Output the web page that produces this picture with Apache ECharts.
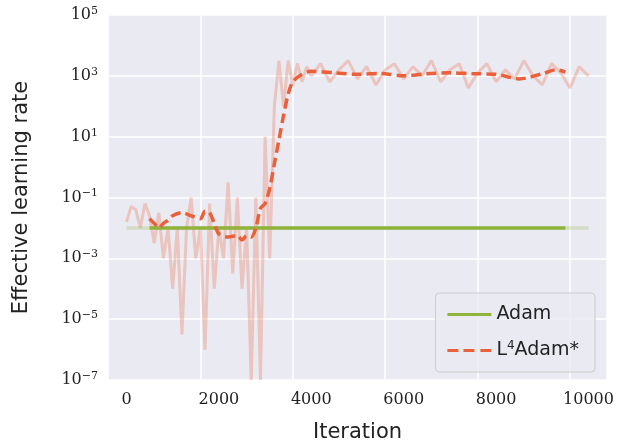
<!DOCTYPE html>
<html><head><meta charset="utf-8">
<script src="https://cdn.jsdelivr.net/npm/echarts@6/dist/echarts.min.js"></script>
<style>html,body{margin:0;padding:0;background:#fff}#c{width:617px;height:448px}</style>
</head><body><div id="c"></div>
<script>
// values are log10 of the effective learning rate
const rawX = [0,100,200,300,400,500,600,700,800,900,1000,1100,1200,1300,1400,1500,1600,1700,1800,1900,2000,2100,2200,2300,2400,2500,2600,2700,2800,2900,3000,3100,3200,3300,3400,3500,3600,3700,3800,3900,4000,4200,4400,4600,4800,5000,5200,5400,5600,5800,6000,6200,6400,6600,6800,7000,7200,7400,7600,7800,8000,8200,8400,8600,8800,9000,9200,9400,9600,9800,10000];
const rawY = [-1.8,-1.3,-1.4,-2.0,-1.2,-1.6,-2.5,-1.5,-3.0,-2.0,-4.0,-2.0,-5.5,-2.0,-1.0,-3.0,-2.0,-6.0,-1.2,-4.0,-2.0,-3.0,-0.5,-3.5,-1.0,-4.0,-2.0,-7.0,-1.0,-7.0,1.0,-3.0,2.0,3.5,2.0,3.5,2.7,3.4,2.8,3.3,3.0,3.4,2.8,3.2,3.5,2.9,3.3,2.7,3.2,3.4,2.9,3.3,3.0,3.5,2.8,3.2,3.4,2.6,3.1,3.4,2.8,3.2,2.9,3.5,3.0,2.7,3.4,3.1,2.6,3.3,3.0];
const adamX = [500,9500];
const adamY = [-2,-2];
const adamRawX = [0,10000];
const adamRawY = [-2,-2];
const l4X = [500,600,700,800,900,1000,1200,1400,1600,1700,1800,1900,2000,2200,2400,2500,2600,2700,2800,2900,3000,3100,3200,3300,3400,3500,3600,3800,4000,4500,5000,5500,6000,6500,7000,7500,8000,8500,9000,9300,9500];
const l4Y = [-1.7,-1.85,-2.0,-1.85,-1.75,-1.6,-1.5,-1.6,-1.7,-1.45,-1.5,-1.85,-2.2,-2.3,-2.25,-2.4,-2.25,-2.3,-2.0,-1.36,-1.2,-0.7,0.1,0.9,1.7,2.4,2.8,3.05,3.15,3.1,3.05,3.08,3.0,3.07,3.1,3.07,3.05,2.9,3.07,3.2,3.12];
const xTicks = [0,2000,4000,6000,8000,10000];

const GREEN = '#8fb33b', ORANGE = '#e9603a';
const pair = (xs, ys) => xs.map((x, i) => [x, ys[i]]);
const sup = {sup: {fontSize: 11, verticalAlign: 'top', padding: [0,0,8,0], fontFamily: 'DejaVu Serif', color: '#222'}};

const chart = echarts.init(document.getElementById('c'));
chart.setOption({
  backgroundColor: '#fff',
  animation: false,
  grid: {left: 108, right: 10, top: 15, bottom: 65, backgroundColor: '#eaeaf2', show: true, borderWidth: 0},
  xAxis: {
    type: 'value', min: -400, max: 10400, interval: 2000,
    axisLine: {show: false}, axisTick: {show: false},
    splitLine: {lineStyle: {color: '#fff', width: 1.5}},
    axisLabel: {color: '#222', fontSize: 16, fontFamily: 'DejaVu Serif', margin: 12,
      customValues: xTicks, formatter: v => String(v)},
    name: 'Iteration', nameLocation: 'middle', nameGap: 42,
    nameTextStyle: {fontSize: 21, color: '#222', fontFamily: 'DejaVu Sans'}
  },
  yAxis: {
    type: 'value', min: -7, max: 5, interval: 2,
    axisLine: {show: false}, axisTick: {show: false},
    splitLine: {lineStyle: {color: '#fff', width: 1.5}},
    axisLabel: {color: '#222', fontSize: 16, fontFamily: 'DejaVu Serif', margin: 10,
      formatter: v => '10{sup|' + (v < 0 ? '\u2212' + (-v) : v) + '}', rich: sup},
    name: 'Effective learning rate', nameLocation: 'middle', nameGap: 76,
    nameTextStyle: {fontSize: 21, color: '#222', fontFamily: 'DejaVu Sans'}
  },
  legend: {
    right: 22, bottom: 76, orient: 'vertical', itemWidth: 44, itemHeight: 14, itemGap: 16,
    backgroundColor: 'rgba(234,234,242,0.85)', borderColor: '#ccc', borderWidth: 1, borderRadius: 4,
    padding: [12, 16, 12, 12],
    textStyle: {fontSize: 19, color: '#222', fontFamily: 'DejaVu Sans',
      rich: {s: {fontSize: 12, verticalAlign: 'top', padding: [0,0,9,0], fontFamily: 'DejaVu Sans', color: '#222'}}},
    formatter: n => n === 'L4Adam*' ? 'L{s|4}Adam*' : n,
    data: [{name: 'Adam', icon: 'path://M0,5L44,5L44,8L0,8Z'},
           {name: 'L4Adam*', icon: 'path://M0,5L11,5L11,8L0,8ZM16,5L27,5L27,8L16,8ZM33,5L44,5L44,8L33,8Z'}]
  },
  series: [
    {type: 'line', data: pair(rawX, rawY), symbol: 'none', silent: true,
     lineStyle: {color: ORANGE, width: 3, opacity: 0.28}},
    {type: 'line', data: pair(adamRawX, adamRawY), symbol: 'none', silent: true,
     lineStyle: {color: GREEN, width: 3.5, opacity: 0.25}},
    {name: 'Adam', type: 'line', data: pair(adamX, adamY), symbol: 'none',
     itemStyle: {color: GREEN}, lineStyle: {color: GREEN, width: 3.5}},
    {name: 'L4Adam*', type: 'line', data: pair(l4X, l4Y), symbol: 'none', smooth: 0.3,
     itemStyle: {color: ORANGE}, lineStyle: {color: ORANGE, width: 3.5, type: [10, 5]}}
  ]
});
</script></body></html>
